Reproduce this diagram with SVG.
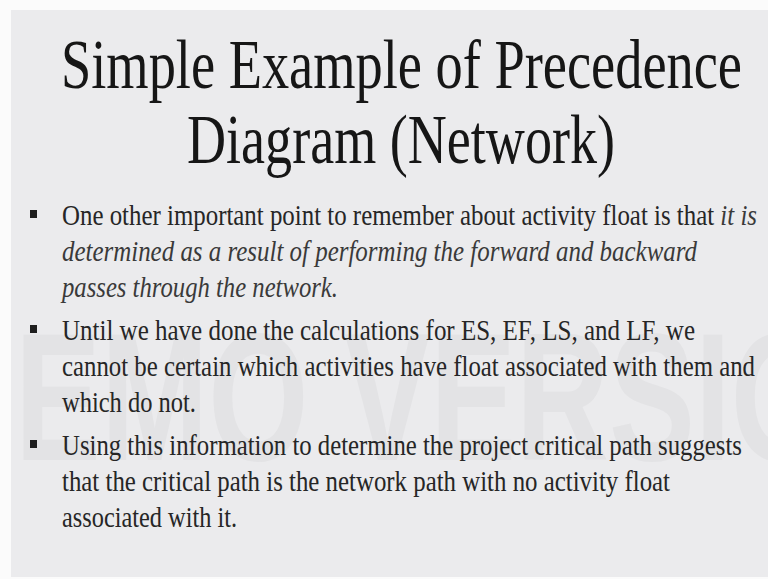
<svg xmlns="http://www.w3.org/2000/svg" width="768" height="579" viewBox="0 0 768 579">
  <defs>
    <clipPath id="slideClip"><rect x="11" y="10" width="757" height="567"/></clipPath>
    <style>
      .title { font-family: "Liberation Serif", "Times New Roman", serif; font-size: 70px; fill: #161616; }
      .body { font-family: "Liberation Serif", "Times New Roman", serif; font-size: 30px; fill: #262626; }
      .it { font-style: italic; fill: #3a3a3a; }
      .wm { font-family: "Liberation Sans", Arial, sans-serif; font-weight: bold; font-size: 182px; fill: #e3e3e5; }
      .bullet { fill: #1e1e1e; }
    </style>
  </defs>
  <rect x="0" y="0" width="768" height="579" fill="#fbfbfb"/>
  <rect x="11" y="10" width="757" height="567" fill="#ebebed"/>
  <g id="watermark" clip-path="url(#slideClip)">
    <text class="wm" x="-78" y="460" textLength="1002" lengthAdjust="spacingAndGlyphs">DEMO VERSION</text>
  </g>
  <g id="title">
    <text class="title" x="61" y="88" textLength="681" lengthAdjust="spacingAndGlyphs">Simple Example of Precedence</text>
    <text class="title" x="187" y="163" textLength="428" lengthAdjust="spacingAndGlyphs">Diagram (Network)</text>
  </g>
  <g id="bullet1">
    <rect class="bullet" x="30" y="210" width="7" height="8"/>
    <text class="body" x="62" y="225" textLength="695" lengthAdjust="spacingAndGlyphs">One other important point to remember about activity float is that <tspan class="it">it is</tspan></text>
    <text class="body it" x="62" y="261" textLength="635" lengthAdjust="spacingAndGlyphs">determined as a result of performing the forward and backward</text>
    <text class="body it" x="62" y="297" textLength="276" lengthAdjust="spacingAndGlyphs">passes through the network.</text>
  </g>
  <g id="bullet2">
    <rect class="bullet" x="30" y="325" width="7" height="8"/>
    <text class="body" x="62" y="340" textLength="633" lengthAdjust="spacingAndGlyphs">Until we have done the calculations for ES, EF, LS, and LF, we</text>
    <text class="body" x="62" y="376" textLength="693" lengthAdjust="spacingAndGlyphs">cannot be certain which activities have float associated with them and</text>
    <text class="body" x="62" y="412" textLength="134" lengthAdjust="spacingAndGlyphs">which do not.</text>
  </g>
  <g id="bullet3">
    <rect class="bullet" x="30" y="440" width="7" height="8"/>
    <text class="body" x="62" y="455" textLength="680" lengthAdjust="spacingAndGlyphs">Using this information to determine the project critical path suggests</text>
    <text class="body" x="62" y="491" textLength="608" lengthAdjust="spacingAndGlyphs">that the critical path is the network path with no activity float</text>
    <text class="body" x="62" y="527" textLength="175" lengthAdjust="spacingAndGlyphs">associated with it.</text>
  </g>
</svg>
